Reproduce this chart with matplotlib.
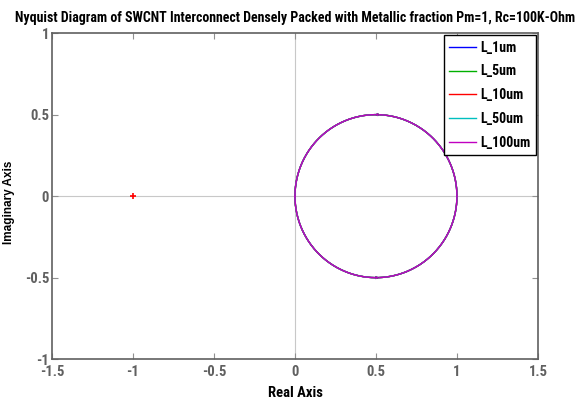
import numpy as np
import matplotlib
import matplotlib.pyplot as plt

narrow = ['Roboto Condensed', 'DejaVu Sans']
matplotlib.rc('font', family=narrow, weight='bold', size=10)
matplotlib.rc('axes', titleweight='bold', labelweight='bold')

# interconnect lengths and time constants (R*C) of the first-order model
labels = ['L_1um', 'L_5um', 'L_10um', 'L_50um', 'L_100um']
tau = [1.0e-12, 5.0e-12, 1.0e-11, 5.0e-11, 1.0e-10]
colors = ['#0000ff', '#00b000', '#ff0000', '#00bfbf', '#c000c0']

x_ticks = [-1.5, -1, -0.5, 0, 0.5, 1, 1.5]
y_ticks = [-1, -0.5, 0, 0.5, 1]

fig = plt.figure(figsize=(5.82, 4.04), dpi=100)
ax = fig.add_axes([0.0893, 0.111, 0.835, 0.807])

ax.axhline(0, color='#c8c8c8', lw=0.8, zorder=1)
ax.axvline(0, color='#c8c8c8', lw=0.8, zorder=1)

for t, lab, c in zip(tau, labels, colors):
    w = np.logspace(np.log10(1e-4 / t), np.log10(1e4 / t), 800)
    H = 1.0 / (1.0 + 1j * w * t)
    # positive and mirrored negative frequency branches
    ax.plot(H.real, H.imag, color=c, lw=1.0, label=lab, zorder=3)
    ax.plot(H.real, -H.imag, color=c, lw=1.0, zorder=3)
    # direction arrows at the corner frequency
    k = np.argmin(np.abs(w * t - 1))
    ax.annotate('', xy=(H.real[k] + 0.012, H.imag[k]), xytext=(H.real[k], H.imag[k]),
                arrowprops=dict(arrowstyle='-|>', color=c, lw=0.5,
                                mutation_scale=4), zorder=4)
    ax.annotate('', xy=(H.real[k] - 0.012, -H.imag[k]), xytext=(H.real[k], -H.imag[k]),
                arrowprops=dict(arrowstyle='-|>', color=c, lw=0.5,
                                mutation_scale=4), zorder=4)

# critical point
ax.plot(-1, 0, '+', color='red', ms=4, mew=1.2, zorder=4)

ax.set_xlim(-1.5, 1.5)
ax.set_ylim(-1, 1)
ax.set_xticks(x_ticks)
ax.set_yticks(y_ticks)
ax.set_xticklabels(['-1.5', '-1', '-0.5', '0', '0.5', '1', '1.5'])
ax.set_yticklabels(['-1', '-0.5', '0', '0.5', '1'])

for s in ax.spines.values():
    s.set_color('#606060')
    s.set_linewidth(1.2)
ax.tick_params(direction='in', length=4, width=0.8, color='#909090',
               top=True, right=True, labelcolor='#606060', labelsize=10.5, pad=2)
ax.tick_params(axis='x', pad=4)

ax.set_xlabel('Real Axis', fontsize=10.5, labelpad=5)
ax.set_ylabel('Imaginary Axis', fontsize=8.5,
              family=['Liberation Sans', 'DejaVu Sans'])
ax.yaxis.set_label_coords(-0.076, 0.48)
ax.set_title('Nyquist Diagram of SWCNT Interconnect Densely Packed with Metallic fraction Pm=1, Rc=100K-Ohm',
             fontsize=10, pad=8)

leg = ax.legend(loc='upper right', fontsize=10, handlelength=1.9,
                handletextpad=0.3, labelspacing=0.7, borderpad=0.4,
                fancybox=False, framealpha=1, borderaxespad=0.15)
leg.get_frame().set_edgecolor('black')
leg.get_frame().set_linewidth(1.0)

plt.savefig('out.png', dpi=100)
